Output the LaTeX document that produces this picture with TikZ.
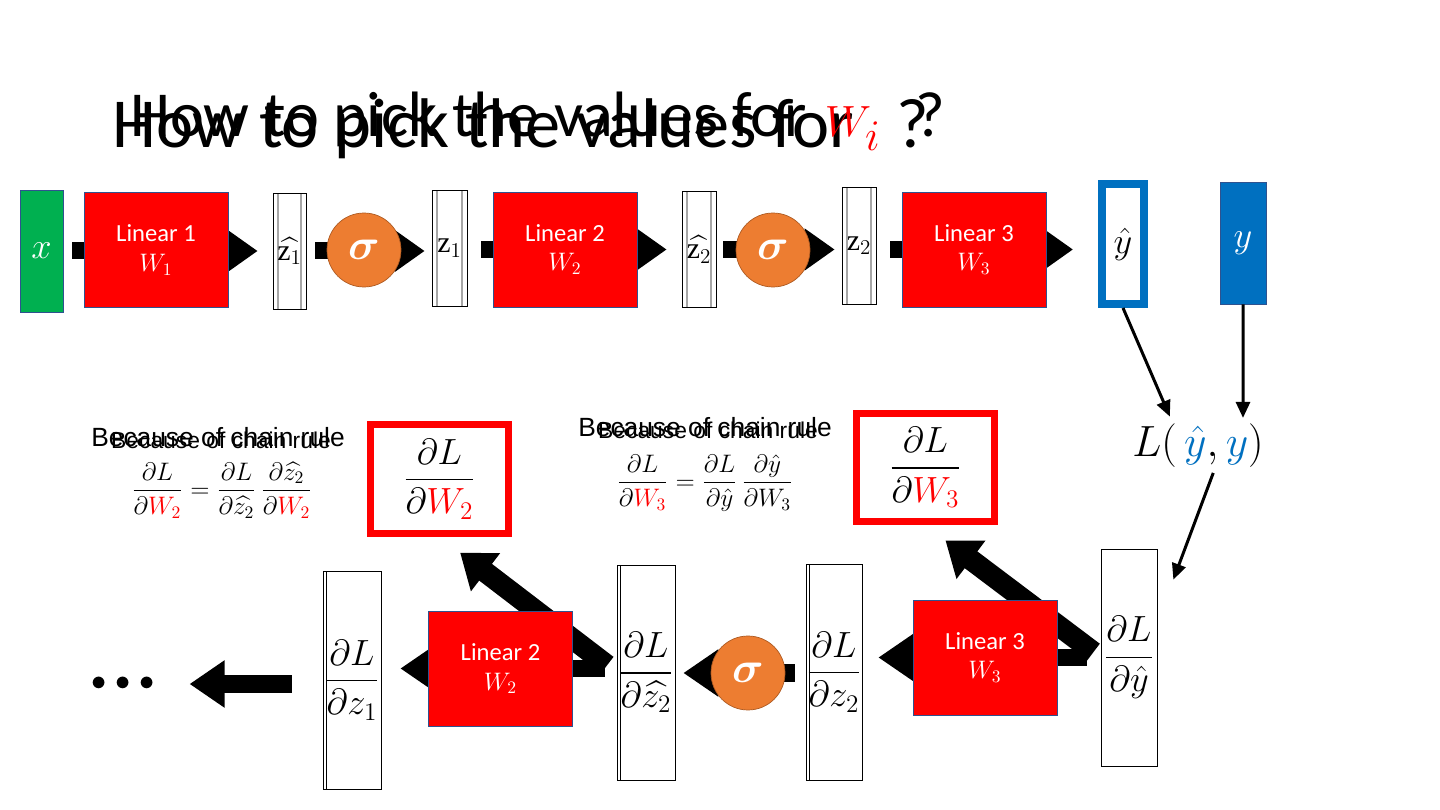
\documentclass[tikz,border=0pt]{standalone}
\usepackage{amsmath}
\usepackage{bm}
\usepackage{fontspec}
\setmainfont{Carlito}
\newfontfamily\arialfont{Liberation Sans}
\newfontfamily\seriffont{Liberation Serif}
\usetikzlibrary{arrows.meta,backgrounds}
\definecolor{linred}{HTML}{FF0000}
\definecolor{linedge}{HTML}{2F528F}
\definecolor{xgreen}{HTML}{00B050}
\definecolor{sigorange}{HTML}{ED7D31}
\definecolor{sigedge}{HTML}{AE5A21}
\definecolor{yblue}{HTML}{0070C0}
\newcommand{\zv}[1]{\text{\seriffont z}_{#1}}
\begin{document}
\begin{tikzpicture}[x=0.02cm, y=-0.02cm,
  lin/.style={draw=linedge, fill=linred, text=white, minimum width=2.88cm, minimum height=2.3cm, align=center, font=\fontsize{14}{17}\selectfont},
  vec/.style={draw, fill=white, minimum width=0.68cm, minimum height=2.32cm, inner sep=0pt, font=\fontsize{17}{19}\selectfont,
    path picture={\draw[gray!70, line width=0.7pt] ([xshift=0.1cm]path picture bounding box.north west) -- ([xshift=0.1cm]path picture bounding box.south west)
      ([xshift=-0.1cm]path picture bounding box.north east) -- ([xshift=-0.1cm]path picture bounding box.south east);}},
  grad/.style={draw, fill=white, minimum width=1.14cm, minimum height=4.32cm, inner sep=0pt, font=\fontsize{20}{24}\selectfont},
  gradd/.style={grad, path picture={\draw ([xshift=0.06cm]path picture bounding box.north west) -- ([xshift=0.06cm]path picture bounding box.south west);}},
  sig/.style={circle, draw=sigedge, fill=sigorange, text=white, minimum size=1.48cm, inner sep=0pt, font=\fontsize{27}{29}\selectfont},
  dwbox/.style={draw=linred, line width=0.14cm, fill=white, minimum width=2.76cm, minimum height=2.18cm, font=\fontsize{21}{24}\selectfont},
  crtext/.style={anchor=base, inner sep=0pt},
  fat/.style={line width=0.34cm, -{Triangle[width=0.8cm,length=0.6cm]}},
  back/.style={line width=0.36cm, -{Triangle[width=0.9cm,length=0.7cm]}},
  slant/.style={line width=0.42cm, -{Triangle[width=0.92cm,length=0.64cm]}},
  thin/.style={line width=0.06cm, -{Triangle[width=0.28cm,length=0.32cm]}}]
\useasboundingbox (0,0) rectangle (1440,810);
\begin{pgfonlayer}{background}
\fill[white] (0,0) rectangle (1440,810);
\end{pgfonlayer}
% title, set twice
\node[anchor=base west, inner sep=0pt, font=\fontsize{40}{48}\selectfont] (titlebig) at (112,148) {How to pick the values for\hspace{24pt}?};
\node[anchor=base west, inner sep=0pt, font=\fontsize{36.5}{42}\selectfont] (titlesmall) at (130,137) {How to pick the values for\hspace{10pt}{\fontsize{36}{40}\selectfont\color{linred}$W_i$}\hspace{20pt}?};
% forward pass
\node[draw=linedge, fill=xgreen, text=white, minimum width=0.86cm, minimum height=2.44cm, font=\fontsize{22}{24}\selectfont] (x) at (41.5,251) {$x$};
\node[lin] (lin1) at (156,250) {Linear 1\\$W_1$};
\node[vec, minimum width=0.66cm] (z1h) at (289.5,251) {$\widehat{\zv{1}}$};
\node[sig] (sig1) at (364,250) {$\bm{\sigma}$};
\node[vec, minimum width=0.7cm] (z1) at (449.5,248) {$\zv{1}$};
\node[lin] (lin2) at (565,249.5) {Linear 2\\$W_2$};
\node[vec] (z2h) at (699,249.5) {$\widehat{\zv{2}}$};
\node[sig] (sig2) at (773,250) {$\bm{\sigma}$};
\node[vec, minimum height=2.34cm] (z2) at (859,245.5) {$\zv{2}$};
\node[lin] (lin3) at (974,249.5) {Linear 3\\$W_3$};
\node[draw=yblue, line width=0.16cm, fill=white, minimum width=0.84cm, minimum height=2.4cm, font=\fontsize{22}{24}\selectfont] (yhat) at (1123,244) {$\hat{y}$};
\node[draw=linedge, fill=yblue, text=white, minimum width=0.92cm, minimum height=2.44cm, font=\fontsize{22}{24}\selectfont] (y) at (1243,243) {$y$};
\node[anchor=base, inner sep=0pt, font=\fontsize{38}{42}\selectfont] (loss) at (1198,457) {$L(\,{\color{yblue}\hat{y}},{\color{yblue}y})$};
% gradients
\node[dwbox] (dW2) at (439.5,479) {$\dfrac{\partial L}{\partial {\color{linred}W_2}}$};
\node[dwbox] (dW3) at (925.5,467.5) {$\dfrac{\partial L}{\partial {\color{linred}W_3}}$};
\node[crtext, font=\arialfont\fontsize{15}{18}\selectfont] (cr1a) at (218,447) {Because of chain rule};
\node[crtext, font=\arialfont\fontsize{13}{16}\selectfont] (cr1b) at (221,449) {Because of chain rule};
\node[font=\fontsize{14.5}{17}\selectfont] (eq1) at (222,490) {$\dfrac{\partial L}{\partial {\color{linred}W_2}}=\dfrac{\partial L}{\partial \widehat{z_2}}\,\dfrac{\partial \widehat{z_2}}{\partial {\color{linred}W_2}}$};
\node[crtext, font=\arialfont\fontsize{15}{18}\selectfont] (cr2a) at (705,437) {Because of chain rule};
\node[crtext, font=\arialfont\fontsize{13}{16}\selectfont] (cr2b) at (708,439) {Because of chain rule};
\node[font=\fontsize{14.5}{17}\selectfont] (eq2) at (705,483) {$\dfrac{\partial L}{\partial {\color{linred}W_3}}=\dfrac{\partial L}{\partial \hat{y}}\,\dfrac{\partial \hat{y}}{\partial W_3}$};
% backward pass
\node[grad, minimum width=1.12cm, minimum height=4.34cm] (dyh) at (1129,657.5) {$\dfrac{\partial L}{\partial \hat{y}}$};
\node[lin] (lin3b) at (985,657.5) {Linear 3\\$W_3$};
\node[gradd, minimum width=1.12cm] (dz2) at (834,672) {$\dfrac{\partial L}{\partial z_2}$};
\node[sig] (sigb) at (748,673) {$\bm{\sigma}$};
\node[gradd, minimum width=1.16cm, minimum height=4.3cm] (dz2h) at (646,672.5) {$\dfrac{\partial L}{\partial \widehat{z_2}}$};
\node[lin] (lin2b) at (500.5,668.5) {Linear 2\\$W_2$};
\node[gradd, minimum width=1.16cm, minimum height=4.36cm] (dz1) at (352,680) {$\dfrac{\partial L}{\partial z_1}$};
\node[font=\fontsize{18}{22}\selectfont, inner sep=0pt] (dots) at (123,684) {${\bullet}\;{\bullet}\;{\bullet}$};
\begin{pgfonlayer}{background}
\draw[fat, shorten <=0.18cm, shorten >=0.3cm] (x.east) -- (z1h.west |- x.east);
\draw[fat, shorten <=0.18cm, shorten >=0.14cm] (z1h.east) -- (z1.west |- z1h.east);
\draw[fat, shorten <=0.28cm, shorten >=0.3cm] (z1.east |- lin2) -- (z2h.west |- lin2);
\draw[fat, shorten <=0.14cm, shorten >=0.14cm] (z2h.east) -- (z2.west |- z2h.east);
\draw[fat, shorten <=0.28cm, shorten >=0.5cm] (z2.east |- lin3) -- (yhat.west |- lin3);
\draw[back, shorten <=0.28cm, shorten >=0.32cm] (dyh.west) -- (dz2.east |- dyh.west);
\draw[back, shorten <=0.22cm, shorten >=0.16cm] (dz2.west |- sigb) -- (dz2h.east |- sigb);
\draw[back, shorten <=0.24cm, shorten >=0.38cm] (dz2h.west |- lin2b) -- (dz1.east |- lin2b);
\draw[back, shorten <=0.62cm, shorten >=0.7cm] (dz1.west |- dots) -- (dots.east);
\draw[slant, shorten <=0.18cm, shorten >=0.5cm] (dyh.west) -- (dW3.south);
\draw[slant, shorten <=0.24cm, shorten >=0.52cm] (dz2h.west) -- (dW2.south);
\end{pgfonlayer}
\draw[thin, shorten >=0.16cm] (yhat.south) -- ([xshift=-0.5cm]loss.north);
\draw[thin, shorten >=0.12cm] (y.south) -- ([xshift=0.9cm]loss.north);
\draw[thin, shorten <=0.1cm] ([xshift=0.34cm]loss.south) -- ([xshift=0.32cm,yshift=-0.62cm]dyh.north east);
\end{tikzpicture}
\end{document}
